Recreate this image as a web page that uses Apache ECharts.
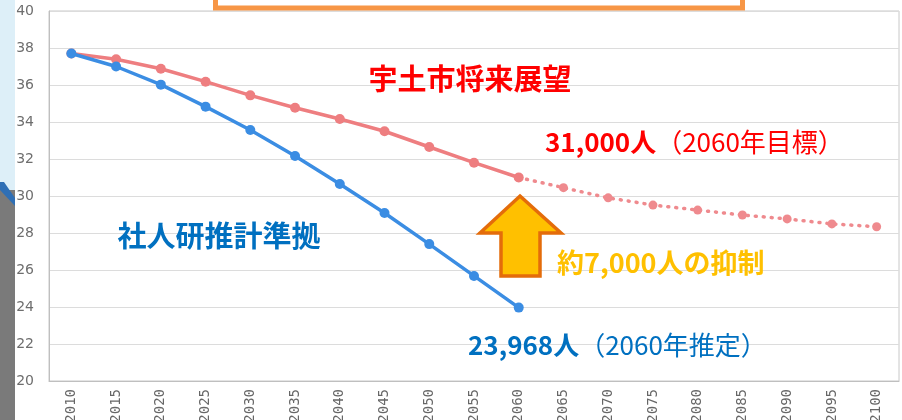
<!DOCTYPE html>
<html><head><meta charset="utf-8">
<script src="https://cdn.jsdelivr.net/npm/echarts@6/dist/echarts.min.js"></script>
<style>html,body{margin:0;padding:0;background:#fff}#c{width:902px;height:420px}</style>
</head><body><div id="c"></div>
<script>
const years = ['2010','2015','2020','2025','2030','2035','2040','2045','2050','2055','2060','2065','2070','2075','2080','2085','2090','2095','2100'];
const shajinken = [37.7,37.0,36.02,34.83,33.57,32.16,30.65,29.08,27.4,25.68,23.968];
const utoSolid = [37.7,37.39,36.88,36.18,35.44,34.77,34.16,33.5,32.65,31.8,31.0];
const utoDotted = [31.0,30.45,29.9,29.51,29.24,28.97,28.76,28.49,28.34];
const yTicks = {min:20, max:40, interval:2};

const blueData = years.map((y,i)=> i<shajinken.length ? shajinken[i] : null);
const redSolidData = years.map((y,i)=> i<utoSolid.length ? utoSolid[i] : null);
const redDotData = years.map((y,i)=> i>=10 ? utoDotted[i-10] : null);

const font = '"Noto Sans CJK JP", sans-serif';
const chart = echarts.init(document.getElementById('c'));
chart.setOption({
  backgroundColor:'#fff',
  animation:false,
  grid:{left:49, top:11, width:850, height:370, show:true, borderColor:'#C8C8C8', borderWidth:1, containLabel:false, outerBoundsMode:'none'},
  xAxis:{type:'category', data:years, boundaryGap:true,
    axisLine:{lineStyle:{color:'#BFBFBF'}}, axisTick:{show:false},
    axisLabel:{rotate:90, color:'#666', fontSize:14, fontFamily:'"DejaVu Sans Mono", monospace', margin:8}},
  yAxis:{type:'value', min:yTicks.min, max:yTicks.max, interval:yTicks.interval,
    axisLine:{show:true, lineStyle:{color:'#BFBFBF'}}, axisTick:{show:false},
    splitLine:{lineStyle:{color:'#DCDCDC'}},
    axisLabel:{color:'#6E6E6E', fontSize:14, fontFamily:'"DejaVu Sans", sans-serif', margin:15}},
  series:[
    {type:'line', data:redDotData, symbol:'circle', symbolSize:9, connectNulls:false,
     itemStyle:{color:'#EF8A8E'}, lineStyle:{color:'#EF8A8E', width:3.5, type:[1,7], cap:'round'}, z:2},
    {type:'line', data:redSolidData, symbol:'circle', symbolSize:10,
     itemStyle:{color:'#EE7E80'}, lineStyle:{color:'#EE7E80', width:3.5}, z:3},
    {type:'line', data:blueData, symbol:'circle', symbolSize:10,
     itemStyle:{color:'#3B8DE3'}, lineStyle:{color:'#3B8DE3', width:3.5}, z:4}
  ],
  graphic:[
    {type:'rect', shape:{x:0,y:0,width:15,height:190}, style:{fill:'#DDEFF8'}, z:10},
    {type:'rect', shape:{x:0,y:190,width:15,height:230}, style:{fill:'#7A7A7A'}, z:10},
    {type:'polygon', shape:{points:[[0,182],[4,182],[15,198],[15,206],[0,190]]}, style:{fill:'#2F6FB5'}, z:11},
    {type:'rect', shape:{x:215.5,y:-20,width:527,height:28}, style:{fill:'#fff', stroke:'#F79646', lineWidth:5}, z:10},
    {type:'text', x:470, y:79, style:{text:'宇土市将来展望', font:'bold 29px '+font, fill:'#FF0000', align:'center', verticalAlign:'middle'}, z:10},
    {type:'text', x:219, y:236, style:{text:'社人研推計準拠', font:'bold 29px '+font, fill:'#0070C0', align:'center', verticalAlign:'middle'}, z:10},
    {type:'text', x:545, y:142, style:{text:'{b|31,000人}{n|（2060年目標）}', fill:'#FF0000', verticalAlign:'middle',
      rich:{b:{font:'bold 26px '+font, fill:'#FF0000'}, n:{font:'26px '+font, fill:'#FF0000'}}}, z:10},
    {type:'text', x:468, y:345, style:{text:'{b|23,968人}{n|（2060年推定）}', fill:'#0070C0', verticalAlign:'middle',
      rich:{b:{font:'bold 26px '+font, fill:'#0070C0'}, n:{font:'26px '+font, fill:'#0070C0'}}}, z:10},
    {type:'text', x:557, y:263, style:{text:'約7,000人の抑制', font:'bold 27px '+font, fill:'#FFC000', verticalAlign:'middle'}, z:10},
    {type:'polygon', shape:{points:[[520,196],[561,233],[540,233],[540,276],[501,276],[501,233],[480,233]]},
      style:{fill:'#FFC000', stroke:'#E46C0A', lineWidth:3.5, lineJoin:'miter'}, z:10}
  ]
});
</script></body></html>
